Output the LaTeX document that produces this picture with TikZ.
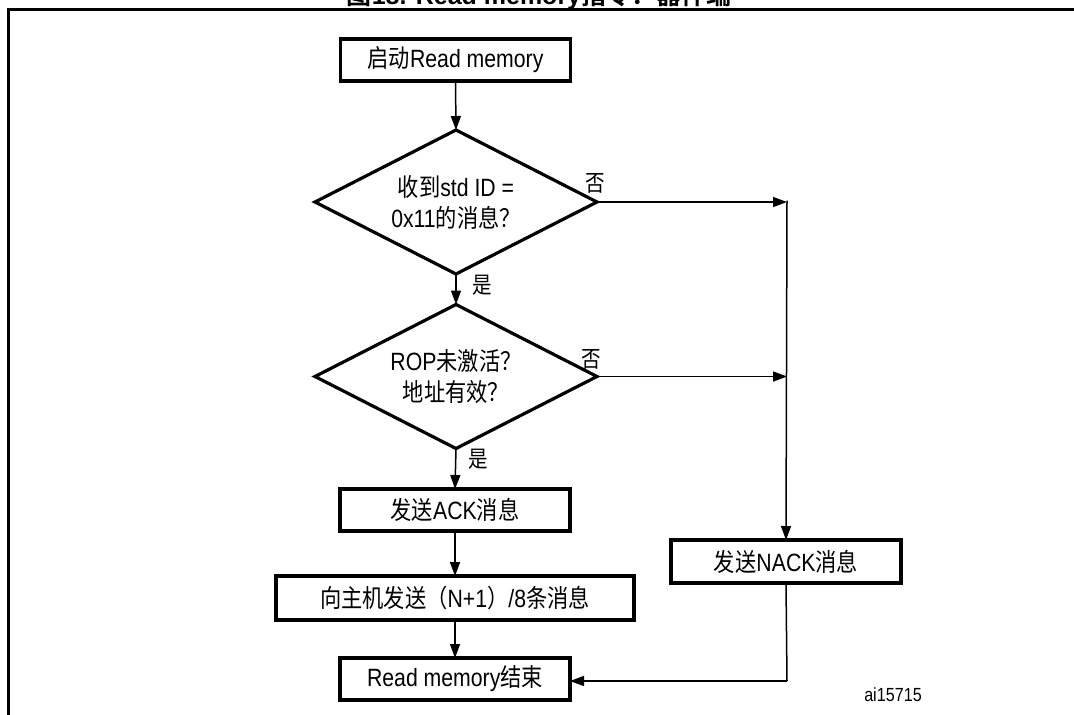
\documentclass[tikz,border=0pt]{standalone}
\usepackage{fontspec}
\setmainfont{Liberation Sans}[FakeStretch=0.85]
\newfontfamily\cjk{Noto Sans CJK SC}[FakeStretch=0.85]
\newfontfamily\latw{Liberation Sans}
\newfontfamily\cjkw{Noto Sans CJK SC}[BoldFont={Noto Sans CJK SC Bold}]
\usetikzlibrary{shapes.geometric,arrows.meta}
\begin{document}
\begin{tikzpicture}[x=1pt,y=-1pt,
  txt/.style={font=\fontsize{25}{31}\selectfont},
  box/.style={draw, line width=3.5pt, inner sep=0pt, outer sep=0pt, minimum width=230pt, minimum height=42pt, txt},
  dec/.style={draw, diamond, aspect=2, line width=3.2pt, inner sep=0pt, outer sep=0pt, minimum width=282pt, minimum height=144pt, align=center, txt},
  conn/.style={line width=1.5pt, -{Triangle[length=14pt,width=10pt]}},
  plain/.style={line width=1.5pt},
  lbl/.style={font=\fontsize{23}{25}\selectfont\cjk, inner sep=0pt}
]
\useasboundingbox (0,0) rectangle (1074,715);
% frame and title
\draw[line width=3pt] (1074,9) -- (8,9) -- (8,720);
\node[anchor=base, inner sep=0pt, font=\latw\bfseries\fontsize{25}{28}\selectfont] (title) at (539,4) {{\cjkw\bfseries 图}18. Read memory{\cjkw\bfseries 指令：器件端}};

% nodes
\node[box] (start) at (455.5,60) {{\cjk 启动}Read memory};
\node[dec] (d1) at (456,202) {{\cjk 收到}std ID =\\0x11{\cjk 的消息？}};
\node[dec] (d2) at (456,376.5) {ROP{\cjk 未激活？}\\{\cjk 地址有效？}};
\node[box] (ack) at (455,510) {{\cjk 发送}ACK{\cjk 消息}};
\node[box, minimum width=358pt, minimum height=44pt] (send) at (455,598) {{\cjk 向主机发送（}N+1{\cjk ）}/8{\cjk 条消息}};
\node[box] (fin) at (455,679) {Read memory{\cjk 结束}};
\node[box, minimum height=43pt] (nack) at (786,561.5) {{\cjk 发送}NACK{\cjk 消息}};

\coordinate (j1) at (787,200.5);
\coordinate (j2) at (787,375.5);
\coordinate (j3) at (787,681);

% connectors
\draw[conn] (start.south) -- (d1.north);
\draw[conn] (d1.south) -- (d2.north);
\draw[conn] (d2.south) -- (ack.north);
\draw[conn] (ack.south) -- (send.north);
\draw[conn] (send.south) -- (fin.north);
\draw[conn] (d1.east) -- (d1.east -| j1);
\draw[conn] (d2.east) -- (d2.east -| j2);
\draw[conn] (j1) -- (nack.north);
\draw[plain] (nack.south) -- (j3);
\draw[conn] (j3) -- (fin.east |- j3);

% labels
\node[lbl] (no1) at (595,183) {否};
\node[lbl] (yes1) at (482,285) {是};
\node[lbl] (no2) at (591,359) {否};
\node[lbl] (yes2) at (478,459) {是};
\node[inner sep=0pt, font=\fontsize{19}{22}\selectfont] (id) at (893,695) {ai15715};
\end{tikzpicture}
\end{document}
